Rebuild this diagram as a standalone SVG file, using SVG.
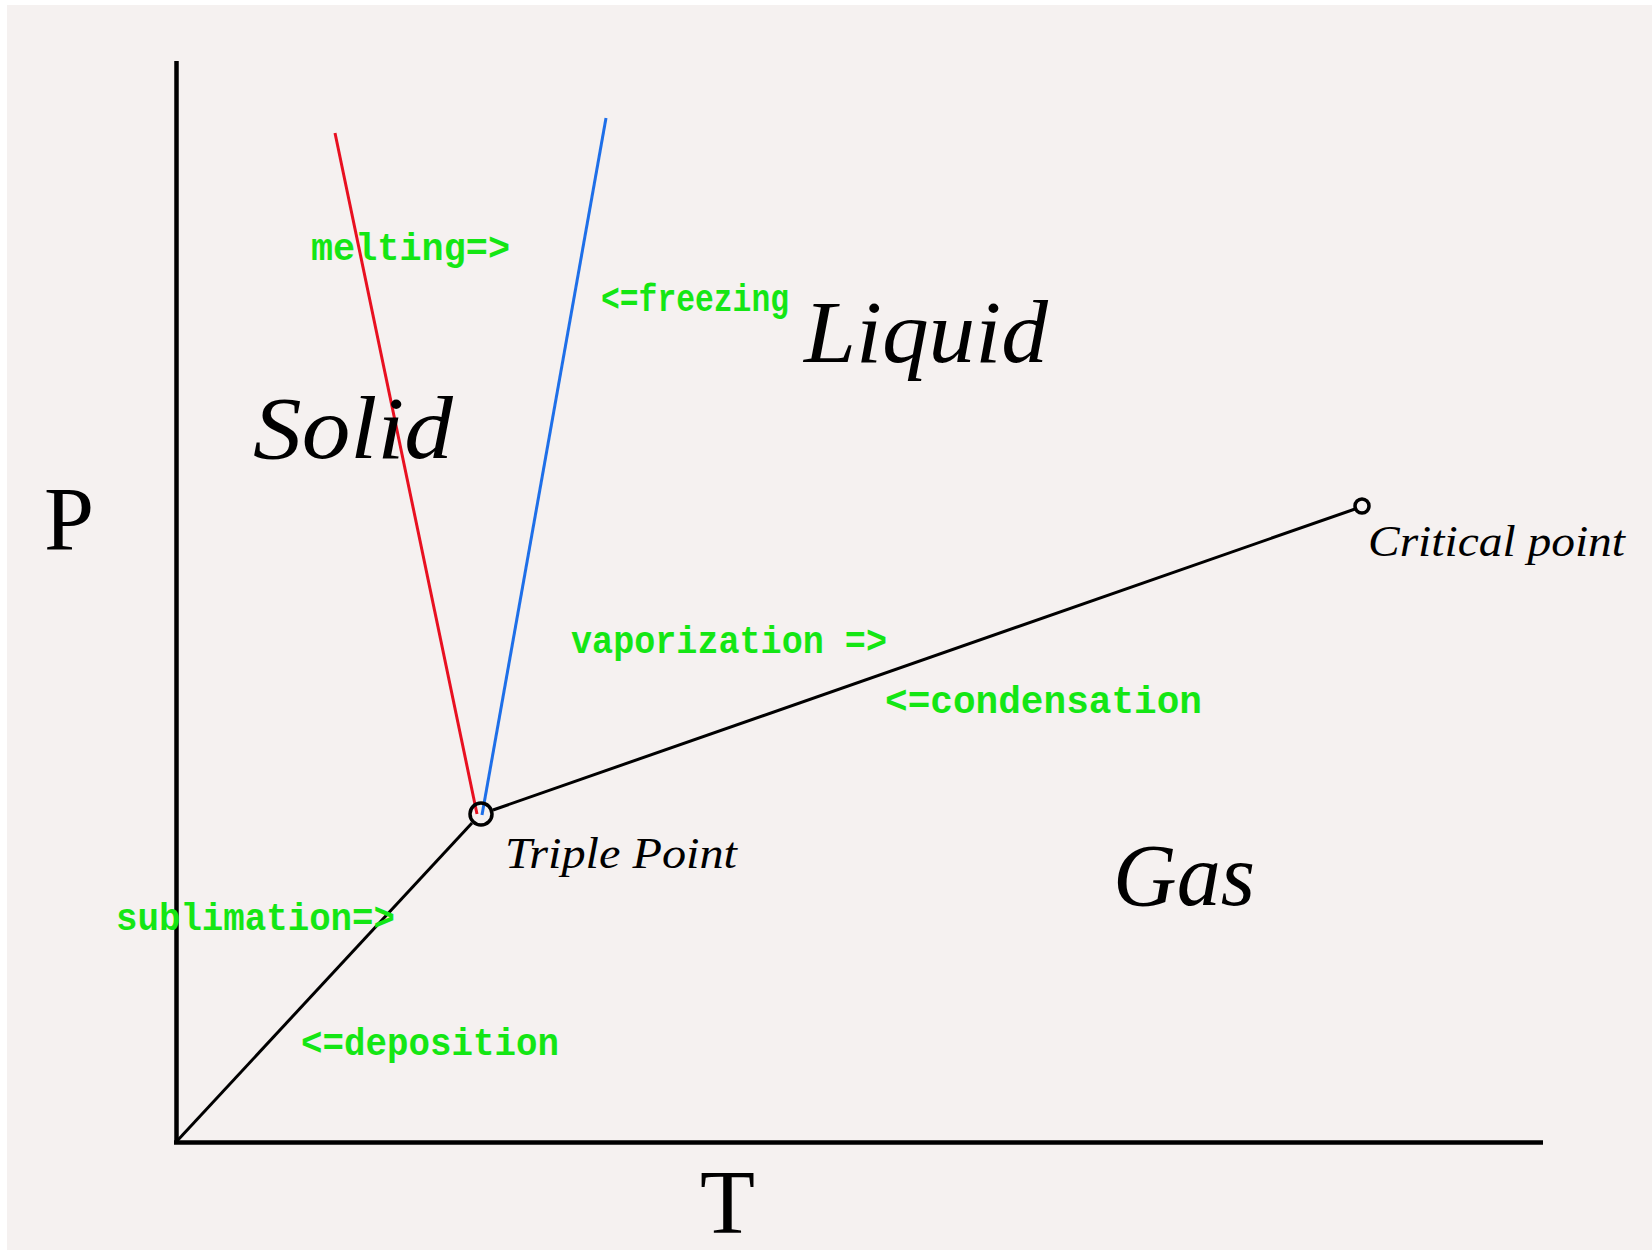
<svg xmlns="http://www.w3.org/2000/svg" width="1652" height="1250" viewBox="0 0 1652 1250">
  <style>
    .green { font-family: "Liberation Mono", "Courier New", monospace; font-size: 38px; font-weight: bold; fill: #14E614; }
    .phase { font-family: "Liberation Serif", "Times New Roman", serif; font-style: italic; font-size: 88px; fill: #000; }
    .pt { font-family: "Liberation Serif", "Times New Roman", serif; font-style: italic; font-size: 45px; fill: #000; }
    .axislabel { font-family: "Liberation Serif", "Times New Roman", serif; font-size: 90px; fill: #000; }
    .axis { stroke: #000; stroke-width: 4.5; fill: none; }
    .curve { stroke: #000; stroke-width: 3; fill: none; }
    .dot { stroke: #000; stroke-width: 3.5; fill: none; }
  </style>
  <rect x="0" y="0" width="1652" height="1250" fill="#FFFFFF"/>
  <rect x="7" y="5" width="1645" height="1245" fill="#F5F1F0"/>

  <g id="axes">
    <line class="axis" x1="176.5" y1="61" x2="176.5" y2="1144"/>
    <line class="axis" x1="174" y1="1142.5" x2="1543" y2="1142.5"/>
    <text class="axislabel" x="44" y="550">P</text>
    <text class="axislabel" x="700" y="1233">T</text>
  </g>

  <g id="connectors">
    <line x1="335" y1="133" x2="477" y2="814" stroke="#E81020" stroke-width="3"/>
    <line x1="606" y1="118" x2="482" y2="815" stroke="#1E6FE8" stroke-width="3"/>
    <line class="curve" x1="493" y1="810" x2="1355" y2="509"/>
    <line class="curve" x1="472" y1="823" x2="177" y2="1141"/>
  </g>

  <g id="triple-point">
    <circle class="dot" cx="481" cy="814" r="11"/>
    <text class="pt" x="505" y="868" textLength="232" lengthAdjust="spacingAndGlyphs">Triple Point</text>
  </g>

  <g id="critical-point">
    <circle class="dot" cx="1362" cy="506" r="7"/>
    <text class="pt" x="1368" y="556" textLength="257" lengthAdjust="spacingAndGlyphs">Critical point</text>
  </g>

  <g id="solid"><text class="phase" x="253" y="458" textLength="200" lengthAdjust="spacingAndGlyphs">Solid</text></g>
  <g id="liquid"><text class="phase" x="804" y="362" textLength="244" lengthAdjust="spacingAndGlyphs">Liquid</text></g>
  <g id="gas"><text class="phase" x="1113" y="905" textLength="142" lengthAdjust="spacingAndGlyphs">Gas</text></g>

  <g id="labels">
    <text class="green" x="601" y="311" textLength="188" lengthAdjust="spacingAndGlyphs">&lt;=freezing</text>
    <text class="green" x="311" y="260" textLength="199" lengthAdjust="spacingAndGlyphs">melting=&gt;</text>
    <text class="green" x="571" y="653" textLength="316" lengthAdjust="spacingAndGlyphs">vaporization =&gt;</text>
    <text class="green" x="885" y="713" textLength="317" lengthAdjust="spacingAndGlyphs">&lt;=condensation</text>
    <text class="green" x="116" y="930" textLength="279" lengthAdjust="spacingAndGlyphs">sublimation=&gt;</text>
    <text class="green" x="301" y="1055" textLength="258" lengthAdjust="spacingAndGlyphs">&lt;=deposition</text>
  </g>
</svg>
